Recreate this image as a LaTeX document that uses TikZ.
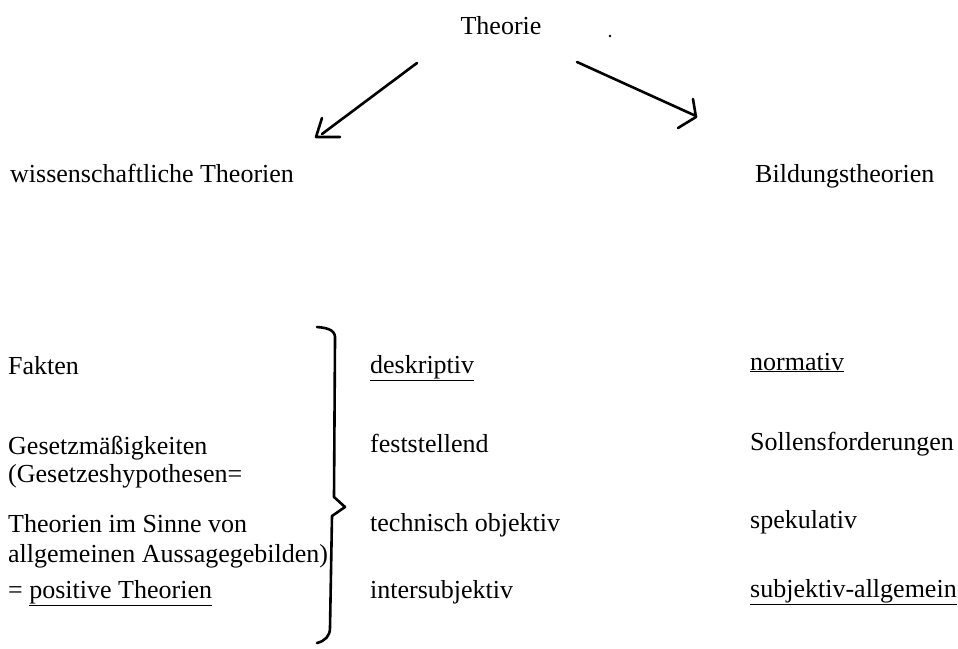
\documentclass[tikz,border=0pt]{standalone}
\usepackage{fontspec}
\setmainfont{Liberation Serif}
\begin{document}
\begin{tikzpicture}[x=1pt,y=-1pt,
  txt/.style={anchor=base west,inner sep=0pt,font=\fontsize{26}{28}\selectfont},
  hand/.style={line width=2.6pt,line cap=round,line join=round},
  bracestyle/.style={line width=2.6pt,line cap=round,line join=round}]
\useasboundingbox (0,0) rectangle (958,648);
% top
\node[txt,anchor=base] (theo) at (501,34) {Theorie};
\fill (610,36) circle (1.3pt);
\node[txt] (wiss) at (10,182) {wissenschaftliche Theorien};
\node[txt] (bild) at (755,182) {Bildungstheorien};
% arrows (hand drawn)
\coordinate (l0) at (417,63);
\coordinate (l1) at (322,134);
\coordinate (r0) at (577,62);
\coordinate (r1) at (696,116);
\draw[hand] (l0) -- (l1);
\draw[hand] (322,118) -- (316,137) -- (340,137);
\draw[hand] (r0) -- (r1);
\draw[hand] (693,99) -- (696,117) -- (678,128);
% left column
\node[txt] (fak) at (8,374) {Fakten};
\node[txt] (g1) at (8,454) {Gesetzmäßigkeiten};
\node[txt] (g2) at (8,482) {(Gesetzeshypothesen=};
\node[txt] (t1) at (8,532) {Theorien im Sinne von};
\node[txt] (t2) at (8,562) {allgemeinen Aussagegebilden)};
\node[txt] (pos) at (8,598) {= \underline{positive Theorien}};
% brace
\draw[bracestyle] (317,327) .. controls (330,328) and (336,331) .. (335,340)
  -- (334,497) -- (345,507) -- (332,516) -- (330,628)
  .. controls (330,636) and (325,641) .. (317,643);
% middle column
\node[txt] (des) at (370,373) {\underline{deskriptiv}};
\node[txt] (fest) at (370,452) {feststellend};
\node[txt] (tech) at (370,531) {technisch objektiv};
\node[txt] (inter) at (370,598) {intersubjektiv};
% right column
\node[txt] (norm) at (750,370) {\underline{normativ}};
\node[txt] (soll) at (750,450) {Sollensforderungen};
\node[txt] (spek) at (750,528) {spekulativ};
\node[txt] (subj) at (750,597) {\underline{subjektiv-allgemein}};
\end{tikzpicture}
\end{document}
